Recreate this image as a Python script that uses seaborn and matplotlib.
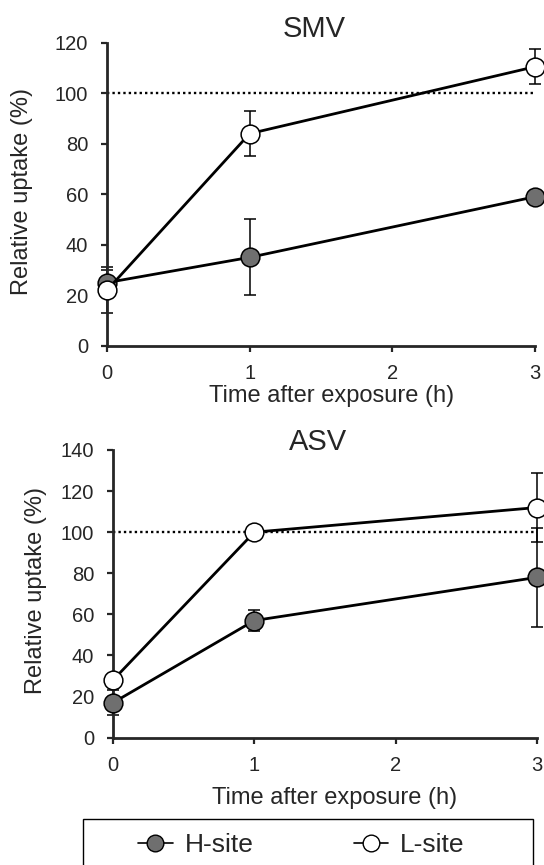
import pandas as pd
import matplotlib.pyplot as plt
import seaborn as sns
from matplotlib.lines import Line2D
from matplotlib.patches import Rectangle

# tempo (h) e captação relativa (%)
horas = [0, 1, 3]

smv_h = [25, 35, 59]
smv_h_err = [5, 15, 2]
smv_l = [22, 84, 110.5]
smv_l_err = [9, 9, 7]

asv_h = [17, 57, 78]
asv_h_err = [6, 5, 24]
asv_l = [28, 100, 112]
asv_l_err = [2, 1, 17]

sites = ["H-site", "L-site"]
cores = {"H-site": "#6f6f6f", "L-site": "white"}

sns.set_style("ticks")
plt.rcParams["font.family"] = ["Liberation Sans", "DejaVu Sans"]

fig = plt.figure(figsize=(5.44, 8.65), dpi=100)
ax_top = fig.add_axes([0.1967, 0.6003, 0.7868, 0.3503])
ax_bot = fig.add_axes([0.2077, 0.1472, 0.7794, 0.3326])


def painel(ax, titulo, h, h_err, l, l_err, ymax, titulo_x, titulo_y, ylab_x, xlab_xy):
    df = pd.DataFrame({
        "tempo": horas * 2,
        "uptake": h + l,
        "erro": h_err + l_err,
        "site": [sites[0]] * 3 + [sites[1]] * 3,
    })

    ax.plot([0, 3], [100, 100], color="black", linestyle=(0, (1, 1.3)), lw=1.7, zorder=1)

    for site in sites:
        d = df[df["site"] == site]
        ax.errorbar(d["tempo"], d["uptake"], yerr=d["erro"], fmt="none",
                    ecolor="black", elinewidth=1.1, capsize=4, capthick=1.1,
                    zorder=2, clip_on=False)
        sns.lineplot(data=d, x="tempo", y="uptake", ax=ax, color="black",
                     lw=2.0, marker="o", markersize=13.5,
                     markerfacecolor=cores[site], markeredgecolor="black",
                     markeredgewidth=1.1, zorder=3, clip_on=False,
                     legend=False)

    ax.set_xlim(0, 3)
    ax.set_ylim(0, ymax)
    ax.set_xticks([0, 1, 2, 3])
    ax.set_yticks(range(0, ymax + 1, 20))
    sns.despine(ax=ax)
    for s in ["left", "bottom"]:
        ax.spines[s].set_linewidth(2.0)
    ax.tick_params(direction="out", length=4.5, width=1.6, pad=9, labelsize=14.5)

    ax.set_title(titulo, fontsize=21, x=titulo_x, y=titulo_y, pad=0)
    ax.set_ylabel("Relative uptake (%)", fontsize=17)
    ax.yaxis.set_label_coords(ylab_x, 0.51)
    ax.set_xlabel("Time after exposure (h)", fontsize=17, va="baseline")
    ax.xaxis.set_label_coords(*xlab_xy)


painel(ax_top, "SMV", smv_h, smv_h_err, smv_l, smv_l_err, 120,
       0.4836, 1.0198, -0.174, (0.5257, -0.1848))
painel(ax_bot, "ASV", asv_h, asv_h_err, asv_l, asv_l_err, 140,
       0.4835, 1.0, -0.1545, (0.5236, -0.2305))

# legenda com caixa cortada pela borda inferior
caixa = Rectangle((0.1526, -0.05), 0.8272, 0.1032, transform=fig.transFigure,
                  facecolor="none", edgecolor="black", lw=1.0)
fig.patches.append(caixa)

handles = [
    Line2D([], [], color="black", lw=1.2, marker="o", markersize=12,
           markerfacecolor=cores[s], markeredgecolor="black", markeredgewidth=1.0)
    for s in sites
]
fig.legend(handles, sites, loc="center left", bbox_to_anchor=(0.2298, 0.0231),
           ncol=2, frameon=False, fontsize=19, handlelength=1.3,
           handletextpad=0.45, columnspacing=3.8, borderpad=0)

fig.savefig("out.png", dpi=100)
